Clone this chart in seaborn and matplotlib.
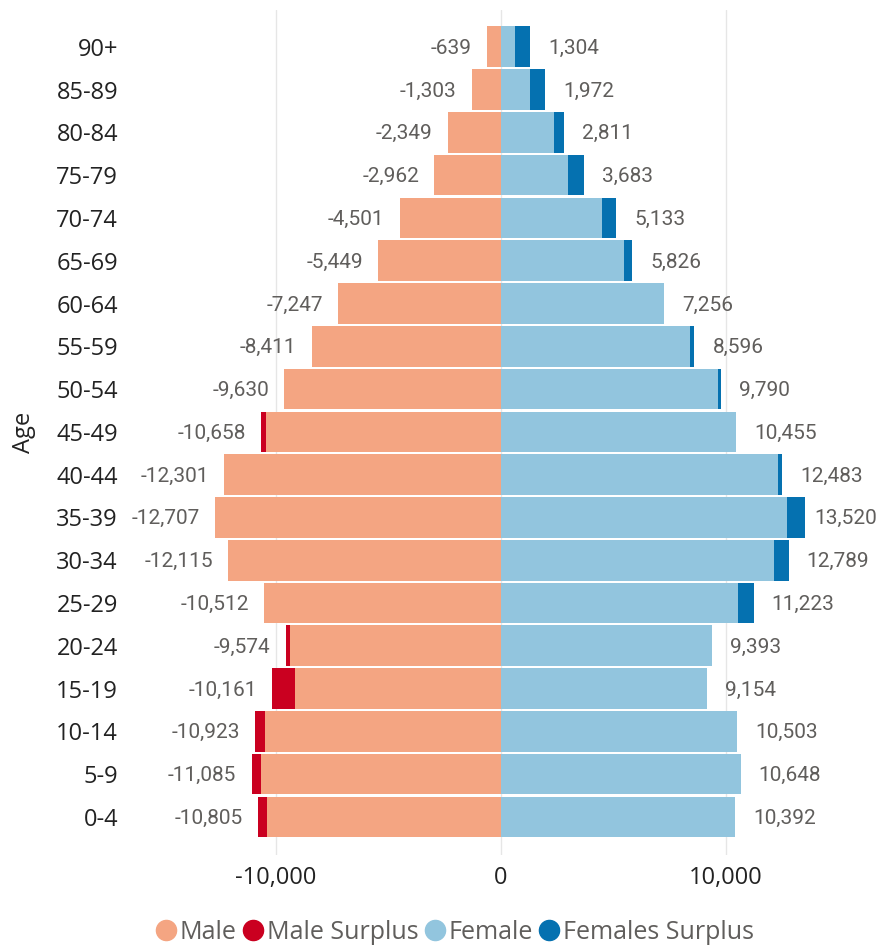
import numpy as np
import pandas as pd
import matplotlib
matplotlib.use("Agg")
import matplotlib.pyplot as plt
from matplotlib.lines import Line2D
import seaborn as sns

ages = ["90+", "85-89", "80-84", "75-79", "70-74", "65-69", "60-64", "55-59",
        "50-54", "45-49", "40-44", "35-39", "30-34", "25-29", "20-24", "15-19",
        "10-14", "5-9", "0-4"]
male = [639, 1303, 2349, 2962, 4501, 5449, 7247, 8411, 9630, 10658, 12301,
        12707, 12115, 10512, 9574, 10161, 10923, 11085, 10805]
female = [1304, 1972, 2811, 3683, 5133, 5826, 7256, 8596, 9790, 10455, 12483,
          13520, 12789, 11223, 9393, 9154, 10503, 10648, 10392]
x_ticks = [-10000, 0, 10000]
x_tick_labels = ["-10,000", "0", "10,000"]

C_MALE = "#F4A582"
C_MALE_S = "#CA0020"
C_FEM = "#92C5DE"
C_FEM_S = "#0571B0"

sns.set_theme(style="white")
plt.rcParams["font.family"] = ["Open Sans", "DejaVu Sans"]

m = np.array(male)
f = np.array(female)
base = np.minimum(m, f)
df = pd.DataFrame({"Age": ages, "male_total": -m, "male_base": -base,
                   "female_total": f, "female_base": base})

DPI = 100
fig = plt.figure(figsize=(8.79, 9.47), dpi=DPI)
ax = fig.add_axes([150 / 879, 1 - 855 / 947, 720 / 879, 845 / 947])

common = dict(y="Age", order=ages, orient="h", width=0.95, saturation=1,
              errorbar=None, linewidth=0, ax=ax, zorder=2)
sns.barplot(data=df, x="male_total", color=C_MALE_S, **common)
sns.barplot(data=df, x="male_base", color=C_MALE, **common)
sns.barplot(data=df, x="female_total", color=C_FEM_S, **common)
sns.barplot(data=df, x="female_base", color=C_FEM, **common)

ax.set_xlim(-15600, 16400)
ax.set_ylim(len(ages) - 1 + 0.89, -0.86)
ax.set_xticks(x_ticks)
ax.set_xticklabels(x_tick_labels)
for xv in x_ticks:
    ax.axvline(xv, color="#E6E6E6", lw=1, zorder=0)
for s in ax.spines.values():
    s.set_visible(False)
ax.tick_params(axis="x", length=0, pad=8, labelsize=17, labelcolor="#222222")
ax.tick_params(axis="y", length=0, pad=23, labelsize=17, labelcolor="#222222")
ax.set_xlabel("")
ax.set_ylabel("Age", fontsize=17, color="#222222")
ax.yaxis.set_label_coords(-114 / 720, 0.5)

lab_kw = dict(textcoords="offset points", va="center", fontsize=15,
              color="#605E5C", family=["Roboto", "DejaVu Sans"])
fem_texts = []
for i, (mv, fv) in enumerate(zip(male, female)):
    ax.annotate(f"-{mv:,}", xy=(-mv, i), xytext=(-11, -1), ha="right", **lab_kw)
    t = ax.annotate(f"{fv:,}", xy=(fv, i), xytext=(13, -1), ha="left", **lab_kw)
    fem_texts.append(t)

# keep right-side labels inside the figure (shift inward like the original)
fig.canvas.draw()
renderer = fig.canvas.get_renderer()
limit = 877
for t in fem_texts:
    bb = t.get_window_extent(renderer)
    if bb.x1 > limit:
        dx_pt = (bb.x1 - limit) * 72 / DPI
        ox, oy = t.xyann
        t.xyann = (ox - dx_pt, oy)

handles = [Line2D([], [], marker="o", ls="", markersize=14.5, color=c)
           for c in [C_MALE, C_MALE_S, C_FEM, C_FEM_S]]
labels = ["Male", "Male Surplus", "Female", "Females Surplus"]
fig.legend(handles, labels, loc="center", bbox_to_anchor=(455 / 879, 1 - 932 / 947),
           ncol=4, frameon=False, fontsize=18, handletextpad=0.15,
           handlelength=0.8, columnspacing=0.25, labelcolor="#605E5C",
           borderaxespad=0, borderpad=0)

fig.savefig("out.png", dpi=DPI)
